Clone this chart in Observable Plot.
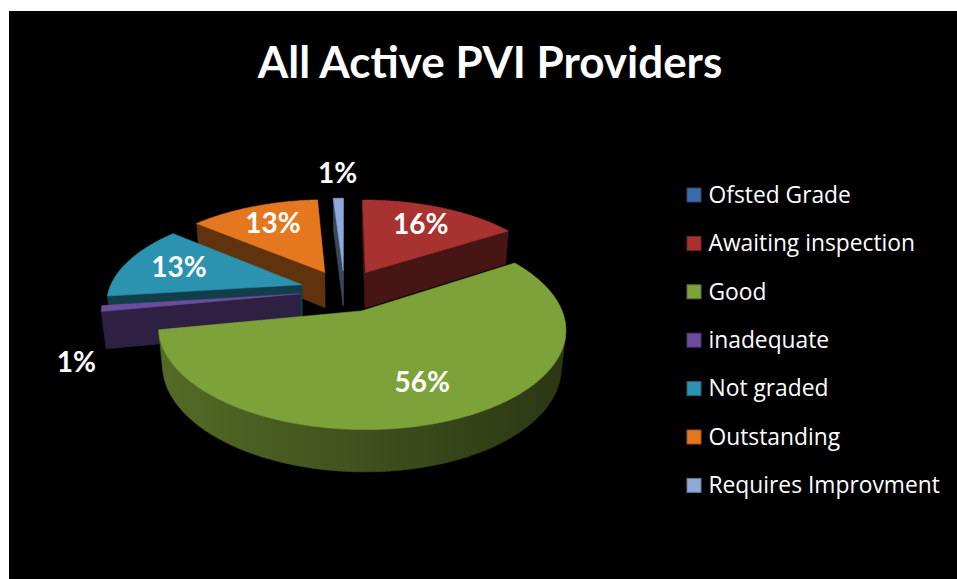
<!DOCTYPE html>
<html><head><meta charset="utf-8">
<script src="https://cdn.jsdelivr.net/npm/d3@7"></script>
<script src="https://cdn.jsdelivr.net/npm/@observablehq/plot@0.6"></script>
<style>
html,body{margin:0;padding:0;background:#fff;width:957px;height:579px;overflow:hidden}
#frame{position:absolute;left:9px;top:11px;width:948px;height:568px;background:#000;overflow:hidden}
#title{position:absolute;left:0;top:28px;width:962px;text-align:center;color:#fff;font-family:Lato,sans-serif;font-weight:bold;font-size:44px;line-height:44px;white-space:nowrap}
#chart{position:absolute;left:0;top:100px}
</style></head><body>
<div id="frame"><div id="title"></div><div id="chart"></div></div>
<script>
// ---- data ----
const title = "All Active PVI Providers";
const categories = ["Ofsted Grade", "Awaiting inspection", "Good", "inadequate", "Not graded", "Outstanding", "Requires Improvment"];
const percents = [0, 16, 56, 1, 13, 13, 1];
const colors = ["#3B6BA9", "#A83230", "#7EA23A", "#6C4C9C", "#2B93B0", "#E5781E", "#8FA9D9"];

document.getElementById("title").textContent = title;

// ---- 3D pie geometry (page pixel space) ----
const cx = 344, cy = 290, R = 193, D = 1000, H = 42, explode = 45;
const A = 28 * Math.PI / 180, sinA = Math.sin(A), cosA = Math.cos(A);
const cam = [0, D * sinA, -D * cosA];
function project(x, y, z) {
  const w = D + z * cosA - y * sinA;
  const v = z * sinA + y * cosA;
  return [cx + D * x / w, cy - D * v / w];
}
function shade(c, k) { const r = d3.rgb(c); return d3.rgb(r.r * k, r.g * k, r.b * k).formatHex(); }

const polys = []; let pid = 0;
function addPoly(pts, fill) {
  const id = pid++;
  for (const p of pts) polys.push({id, x: p[0], y: p[1], fill});
  polys.push({id, x: pts[0][0], y: pts[0][1], fill});
}

let acc = 0;
const slices = [];
categories.forEach((name, i) => {
  const a0 = acc / 100 * 2 * Math.PI; acc += percents[i];
  const a1 = acc / 100 * 2 * Math.PI;
  if (percents[i] <= 0) return;
  const mid = (a0 + a1) / 2;
  slices.push({name, p: percents[i], color: colors[i], idx: i, a0, a1, mid,
    ex: explode * Math.sin(mid), ez: explode * Math.cos(mid)});
});
slices.sort((a, b) => b.ez - a.ez);

const labels = [];
const gradients = [];
for (const s of slices) {
  const {a0, a1, ex, ez, color} = s;
  const rim = (t, y) => project(ex + R * Math.sin(t), y, ez + R * Math.cos(t));
  const vtx = y => project(ex, y, ez);
  const vis = (nx, nz, px, pz) => nx * (cam[0] - px) + nz * (cam[2] - pz) > 0;
  // radial faces
  const faceFill = shade(color, 0.42);
  [[a0, a0 - Math.PI / 2], [a1, a1 + Math.PI / 2]].forEach(([t, n]) => {
    const px = ex + R / 2 * Math.sin(t), pz = ez + R / 2 * Math.cos(t);
    if (vis(Math.sin(n), Math.cos(n), px, pz))
      addPoly([vtx(0), rim(t, 0), rim(t, -H), vtx(-H)], faceFill);
  });
  // outer wall: the visible (front-facing) contiguous arc as one polygon with a gradient
  const steps = Math.max(2, Math.ceil((a1 - a0) / (Math.PI / 360)));
  const ts = d3.range(steps + 1).map(k => a0 + (a1 - a0) * k / steps);
  const visT = ts.filter(t => vis(Math.sin(t), Math.cos(t), ex + R * Math.sin(t), ez + R * Math.cos(t)));
  if (visT.length >= 2) {
    const gid = "wall" + s.idx;
    const L = project(ex - R, 0, ez)[0], Rr = project(ex + R, 0, ez)[0];
    gradients.push({id: gid, x1: L, x2: Rr, c0: shade(color, 0.66), c1: shade(color, 0.5), c2: shade(color, 0.34)});
    const pts = visT.map(t => rim(t, 0)).concat(visT.slice().reverse().map(t => rim(t, -H)));
    addPoly(pts, `url(#${gid})`);
  }
  // top face
  const top = [vtx(0)];
  for (const t of ts) top.push(rim(t, 0));
  addPoly(top, color);
  // label
  const m = s.mid;
  if (s.p >= 5) {
    const [lx, ly] = project(ex + 0.7 * R * Math.sin(m), 0, ez + 0.7 * R * Math.cos(m));
    labels.push({x: lx, y: ly, text: s.p + "%"});
  } else {
    const below = Math.cos(m) < 0;
    const [lx, ly] = project(ex + 1.15 * R * Math.sin(m), below ? -H : 0, ez + 1.15 * R * Math.cos(m));
    labels.push({x: lx, y: ly + (below ? 15 : -15), text: s.p + "%"});
  }
}

const legendRows = categories.map((c, i) => ({name: c, color: colors[i], i}));
const rowY = i => 195 + i * 48.4;

const chart = Plot.plot({
  width: 948, height: 468, margin: 0,
  x: {domain: [9, 957], range: [0, 948], axis: null},
  y: {domain: [111, 579], range: [0, 468], axis: null},
  color: {type: "identity"},
  style: {background: "transparent", fontFamily: "Lato, sans-serif"},
  marks: [
    Plot.line(polys, {x: "x", y: "y", z: "id", fill: "fill", stroke: "fill", strokeWidth: 0.6, strokeLinejoin: "round", curve: "linear"}),
    Plot.text(labels, {x: "x", y: "y", text: "text", fill: "white", fontSize: 28, fontWeight: "bold", lineAnchor: "middle", textAnchor: "middle"}),
    Plot.rect(legendRows, {x1: () => 687, x2: () => 701, y1: d => rowY(d.i) - 7, y2: d => rowY(d.i) + 7, fill: "color", stroke: d => shade(d.color, 0.7), strokeWidth: 1}),
    Plot.text(legendRows, {x: () => 708, y: d => rowY(d.i), text: "name", fill: "white", fontSize: 22.8, fontFamily: "'Open Sans', sans-serif", textAnchor: "start", lineAnchor: "middle"})
  ]
});
// gradient definitions for the curved walls (x in page coords → svg coords: minus 9)
const defs = d3.select(chart).insert("defs", ":first-child");
for (const g of gradients) {
  const lg = defs.append("linearGradient").attr("id", g.id).attr("gradientUnits", "userSpaceOnUse")
    .attr("x1", g.x1 - 9).attr("x2", g.x2 - 9).attr("y1", 0).attr("y2", 0);
  lg.append("stop").attr("offset", 0).attr("stop-color", g.c0);
  lg.append("stop").attr("offset", 0.5).attr("stop-color", g.c1);
  lg.append("stop").attr("offset", 1).attr("stop-color", g.c2);
}
document.getElementById("chart").appendChild(chart);
</script></body></html>
